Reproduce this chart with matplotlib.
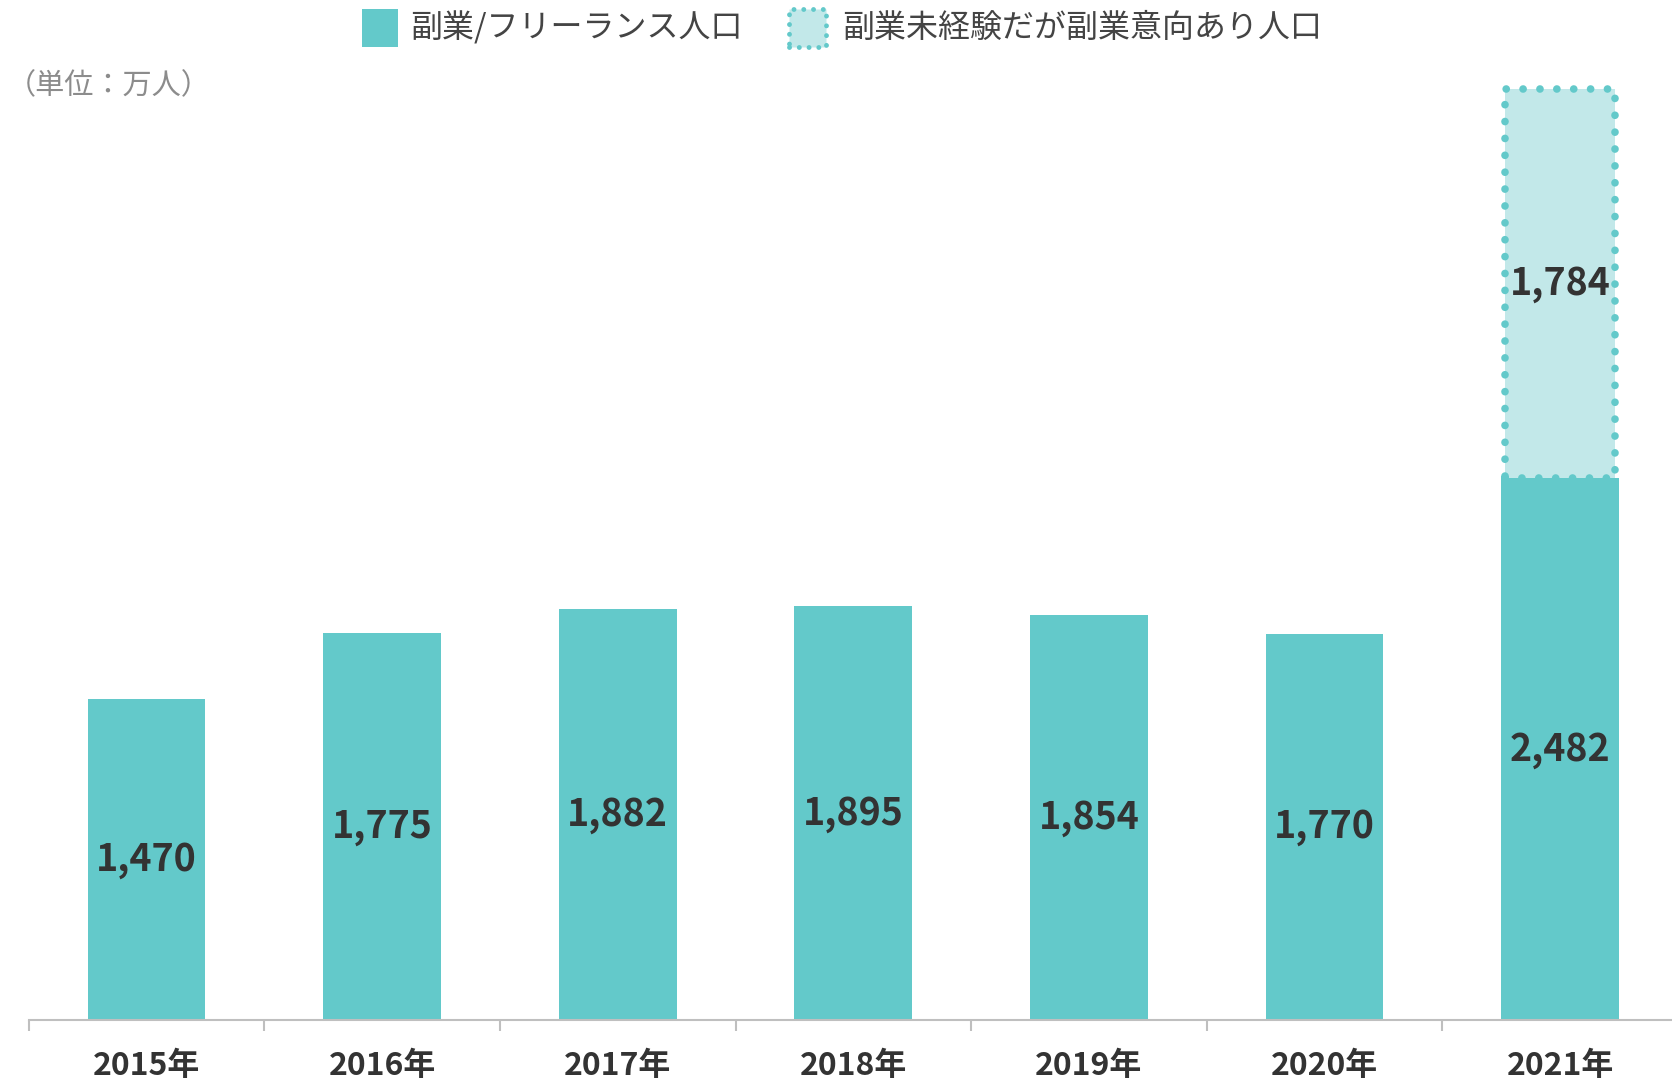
import matplotlib.pyplot as plt
from matplotlib.patches import Rectangle

plt.rcParams['font.family'] = ['Noto Sans CJK JP', 'DejaVu Sans']

years = ["2015年", "2016年", "2017年", "2018年", "2019年", "2020年", "2021年"]
sidejob = [1470, 1775, 1882, 1895, 1854, 1770, 2482]
# only 2021 has the "intention" segment
intent = [0, 0, 0, 0, 0, 0, 1784]

teal = "#63C9CA"
light = "#C2E8E9"
dark = "#333333"

fig = plt.figure(figsize=(16.72, 10.86), dpi=100)
ax = fig.add_axes([0.0172, 0.0609, 0.9828, 0.888])

x = list(range(len(years)))
ax.bar(x, sidejob, width=0.5, color=teal, zorder=2)
for i in x:
    ax.text(i, sidejob[i] / 2, f"{sidejob[i]:,}", ha="center", va="center",
            fontsize=27, fontweight="bold", color=dark, zorder=4)

for i in x:
    if intent[i] > 0:
        b = ax.bar(i, intent[i], bottom=sidejob[i], width=0.47, color=light,
                   edgecolor=teal, linewidth=5.5, linestyle=(0, (0.01, 2.2)), zorder=3)
        for p in b:
            p.set_capstyle("round")
        ax.text(i, sidejob[i] + intent[i] / 2, f"{intent[i]:,}", ha="center", va="center",
                fontsize=27, fontweight="bold", color=dark, zorder=4)

ax.set_xlim(-0.5, 6.475)
ax.set_ylim(0, 4420)

for s in ["top", "right", "left"]:
    ax.spines[s].set_visible(False)
ax.spines["bottom"].set_color("#BFBFBF")
ax.spines["bottom"].set_linewidth(1.5)
ax.set_yticks([])

ax.set_xticks([i - 0.5 for i in range(len(years))])
ax.set_xticklabels([])
ax.tick_params(axis="x", which="major", length=8, width=1.5, color="#BFBFBF", direction="out")
ax.set_xticks(x, minor=True)
ax.set_xticklabels(years, minor=True, fontsize=23, fontweight="bold", color=dark)
ax.tick_params(axis="x", which="minor", length=0, pad=22)

# legend
fig.patches.append(Rectangle((0.2168, 0.9568), 0.0211, 0.0353, transform=fig.transFigure,
                             facecolor=teal, edgecolor="none"))
fig.text(0.2455, 0.9745, "副業/フリーランス人口", fontsize=23, color="#444444", va="center")
lp = Rectangle((0.4720, 0.9568), 0.0222, 0.0353, transform=fig.transFigure,
               facecolor=light, edgecolor=teal, linewidth=3.5, linestyle=(0, (0.01, 2.0)))
lp.set_capstyle("round")
fig.patches.append(lp)
fig.text(0.5038, 0.9745, "副業未経験だが副業意向あり人口", fontsize=23, color="#444444", va="center")

fig.text(0.004, 0.921, "（単位：万人）", fontsize=21, color="#8C8C8C", va="center", ha="left")

fig.savefig("out.png", dpi=100)
